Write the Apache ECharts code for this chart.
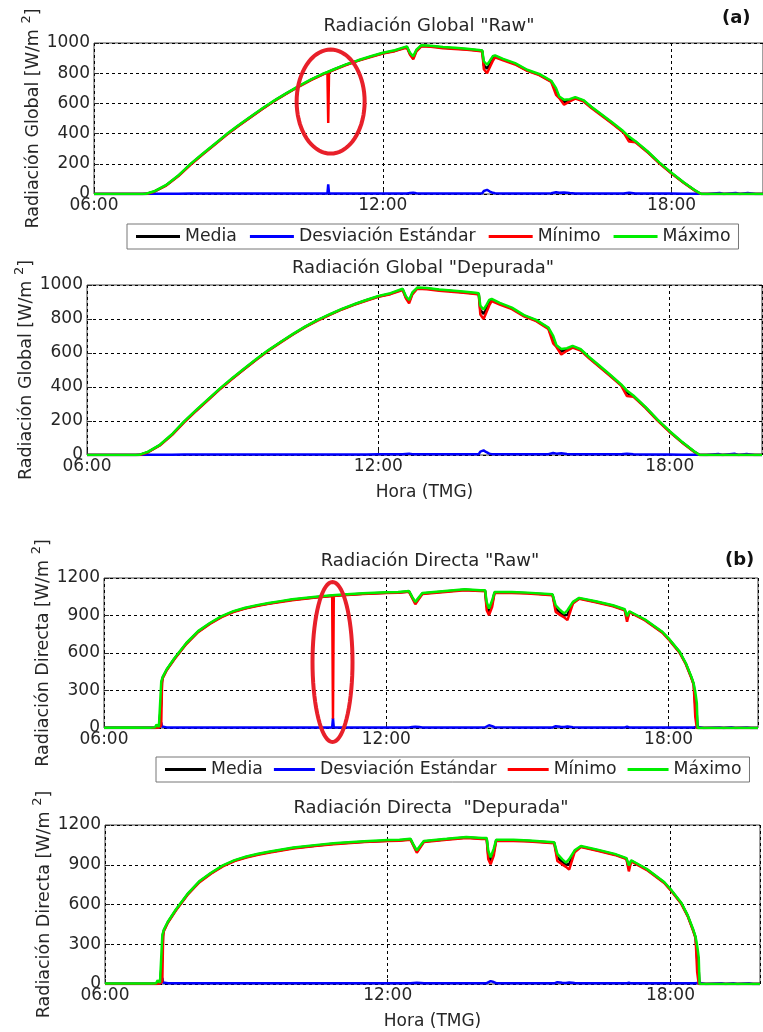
<!DOCTYPE html>
<html><head><meta charset="utf-8">
<script src="https://cdn.jsdelivr.net/npm/echarts/dist/echarts.min.js"></script>
<style>html,body{margin:0;padding:0;background:#fff}#c{width:763px;height:1032px}</style>
</head><body><div id="c"></div>
<script>
// ---------- DATA ----------
const seriesNames = ['Media', 'Desviación Estándar', 'Mínimo', 'Máximo'];
const xTickHours = [6, 12, 18];
const panelTitles = ['Radiación Global "Raw"', 'Radiación Global "Depurada"', 'Radiación Directa "Raw"', 'Radiación Directa  "Depurada"'];

// Global irradiance (W/m2) - cleaned ("Depurada") data
const globalTimes = ['06:00','06:30','07:00','07:05','07:15','07:30','07:45','08:00','08:15','08:30','08:45','09:00','09:15','09:30','09:45','10:00','10:15','10:30','10:45','10:51','10:52','10:53','11:00','11:15','11:30','11:45','12:00','12:15','12:30','12:34','12:38','12:42','12:48','13:00','13:15','13:30','13:45','14:00','14:04','14:06','14:10','14:13','14:17','14:20','14:30','14:45','15:00','15:15','15:30','15:36','15:40','15:46','15:53','16:00','16:10','16:20','16:30','16:45','17:00','17:07','17:15','17:30','17:45','18:00','18:15','18:30','18:37','18:45','19:00','19:05','19:20','19:25','19:35','19:45','19:54'];
const globalMax  = [0,0,0,2,18,60,122,198,265,330,395,455,512,568,620,668,714,757,795,808,810,812,828,860,887,912,935,952,978,934,912,956,985,982,973,968,962,954,951,878,856,878,912,918,895,867,823,795,750,701,646,624,628,642,622,578,538,478,415,380,350,283,208,140,78,22,0,0,0,0,0,0,0,0,0];
const globalMin  = [0,0,0,0,15,56,117,192,260,325,390,450,507,563,616,664,710,753,791,804,806,808,824,856,883,907,930,946,970,922,892,945,978,975,966,960,955,947,944,827,800,834,880,905,885,858,815,787,742,657,635,591,613,632,614,570,530,470,408,347,343,277,202,135,74,19,0,0,0,0,0,0,0,0,0];
const globalMean = [0,0,0,1,16,58,120,195,262,327,392,452,509,565,618,666,712,755,793,806,808,810,826,858,885,910,932,949,974,928,903,950,981,979,970,964,958,950,948,852,830,856,898,911,890,862,819,791,746,680,640,608,620,637,618,574,534,474,411,365,347,280,205,137,76,20,0,0,0,0,0,0,0,0,0];
const globalStd  = [0,0,0,0,1,2,2,3,3,3,3,3,3,3,3,3,3,3,3,3,3,3,3,3,3,3,4,4,4,6,8,5,4,4,4,4,4,4,5,20,27,18,8,5,4,4,4,4,5,12,8,10,6,4,4,4,4,4,4,8,4,3,3,3,2,2,1,0,6,0,7,0,6,0,0];
// "Raw" global anomaly (removed in the cleaned data)
const globalSpikeTime = '10:52';
const globalSpikeMin = 470;
const globalSpikeStd = 64;

// Direct irradiance (W/m2) - cleaned ("Depurada") data
const directTimes = ['06:00','06:30','07:00','07:05','07:07','07:10','07:12','07:13','07:14','07:15','07:20','07:30','07:45','08:00','08:15','08:30','08:45','09:00','09:15','09:30','09:45','10:00','10:30','10:51','10:52','10:53','11:00','11:30','12:00','12:15','12:29','12:33','12:37','12:42','12:46','13:15','13:40','14:00','14:06','14:08','14:11','14:15','14:18','14:40','15:00','15:32','15:36','15:42','15:47','15:51','15:58','16:06','16:27','16:49','17:04','17:07','17:10','17:30','17:52','18:00','18:14','18:22','18:29','18:32','18:34','18:36','18:37','18:45','19:05','19:10','19:20','19:25','19:40','19:45','19:54'];
const directMax  = [3,4,3,5,27,10,14,372,390,411,470,560,680,775,840,895,935,962,983,1000,1015,1030,1050,1062,1062,1063,1066,1078,1086,1088,1096,1049,1009,1049,1080,1096,1110,1102,1102,1009,956,1022,1088,1088,1083,1070,982,942,916,942,1009,1041,1014,982,950,895,934,868,770,717,611,518,411,355,290,200,0,0,0,0,0,0,0,0,0];
const directMin  = [0,0,0,0,10,4,5,20,360,400,462,552,672,767,832,887,927,955,976,993,1008,1022,1043,1055,1055,1056,1059,1071,1079,1081,1089,1040,990,1035,1072,1088,1102,1095,1094,942,903,969,1080,1080,1076,1062,929,903,884,863,995,1033,1005,974,942,850,926,860,762,709,603,510,400,345,90,0,0,0,0,0,0,0,0,0,0];
const directMean = [2,2,2,3,18,7,10,200,378,405,466,556,676,771,836,891,931,958,979,996,1011,1026,1046,1058,1058,1059,1062,1074,1082,1084,1092,1045,1000,1042,1076,1092,1106,1098,1098,975,930,995,1084,1084,1079,1066,955,922,900,905,1002,1037,1010,978,946,872,930,864,766,713,607,514,405,350,190,100,0,0,0,0,0,0,0,0,0];
const directStd  = [0,0,0,0,3,2,8,45,12,6,5,5,5,5,5,5,5,5,5,5,5,5,5,5,5,5,5,5,5,5,5,8,10,8,5,5,5,5,6,18,22,15,6,5,5,5,14,10,8,12,7,5,5,5,5,10,5,5,5,5,5,5,5,5,12,10,4,0,5,0,6,0,5,0,0];
// "Raw" direct anomaly (removed in the cleaned data)
const directSpikeTime = '10:52';
const directSpikeMin = 75;
const directSpikeStd = 80;

// ---------- BUILD ----------
const FONT = 'DejaVu Sans';
const TXT = '#262626';
const COLORS = ['#000000', '#0000ff', '#ff0000', '#00ee00'];

function toHours(s) { const p = s.split(':'); return +p[0] + (+p[1]) / 60; }
function pairs(times, vals) { return times.map((t, i) => [toHours(t), vals[i]]); }
function withSpike(times, vals, t, v) { const o = vals.slice(); o[times.indexOf(t)] = v; return o; }
function fmtHour(v) {
  const h = Math.round(v);
  if (Math.abs(v - h) > 1e-6 || xTickHours.indexOf(h) < 0) return '';
  return (h < 10 ? '0' : '') + h + ':00';
}

const panels = [
  { times: globalTimes, mean: globalMean, std: withSpike(globalTimes, globalStd, globalSpikeTime, globalSpikeStd),
    min: withSpike(globalTimes, globalMin, globalSpikeTime, globalSpikeMin), max: globalMax,
    yMax: 1000, yInt: 200, yName: 'Radiación Global', xName: '',
    grid: { left: 94, top: 43, width: 674, height: 151 }, titleTop: 17, titleX: 429 },
  { times: globalTimes, mean: globalMean, std: globalStd, min: globalMin, max: globalMax,
    yMax: 1000, yInt: 200, yName: 'Radiación Global', xName: 'Hora (TMG)',
    grid: { left: 87, top: 285, width: 675, height: 170 }, titleTop: 259, titleX: 423 },
  { times: directTimes, mean: directMean, std: withSpike(directTimes, directStd, directSpikeTime, directSpikeStd),
    min: withSpike(directTimes, directMin, directSpikeTime, directSpikeMin), max: directMax,
    yMax: 1200, yInt: 300, yName: 'Radiación Directa', xName: '',
    grid: { left: 104, top: 578, width: 654, height: 150 }, titleTop: 552, titleX: 430 },
  { times: directTimes, mean: directMean, std: directStd, min: directMin, max: directMax,
    yMax: 1200, yInt: 300, yName: 'Radiación Directa', xName: 'Hora (TMG)',
    grid: { left: 105, top: 825, width: 655, height: 159 }, titleTop: 799, titleX: 431 }
];

const grids = [], xAxes = [], yAxes = [], series = [], titles = [];
panels.forEach((p, i) => {
  grids.push(Object.assign({ show: true, borderColor: '#404040', borderWidth: 1, backgroundColor: '#fff' }, p.grid));
  titles.push({ text: panelTitles[i], left: p.titleX, top: p.titleTop, textAlign: 'center', padding: 0,
    textStyle: { fontFamily: FONT, fontSize: 18, fontWeight: 'normal', color: TXT } });
  xAxes.push({ type: 'value', gridIndex: i, min: 6, max: 19.9, interval: 6,
    axisLine: { show: false },
    axisTick: { show: true, inside: true, length: 5, lineStyle: { color: '#262626' } },
    axisLabel: { formatter: fmtHour, showMaxLabel: false, margin: 3, fontFamily: FONT, fontSize: 17, color: TXT },
    splitLine: { show: true, lineStyle: { color: '#000', type: [3, 3], width: 1 } },
    name: p.xName, nameLocation: 'middle', nameGap: 29, nameMoveOverlap: false,
    nameTextStyle: { fontFamily: FONT, fontSize: 17, color: TXT } });
  yAxes.push({ type: 'value', gridIndex: i, min: 0, max: p.yMax, interval: p.yInt,
    axisLine: { show: false },
    axisTick: { show: true, inside: true, length: 5, lineStyle: { color: '#262626' } },
    axisLabel: { margin: 4, fontFamily: FONT, fontSize: 17, color: TXT, formatter: v => String(v) },
    splitLine: { show: true, lineStyle: { color: '#000', type: [3, 3], width: 1 } },
    name: '{a|' + p.yName + ' [W/m }{s|2}{a|]}', nameLocation: 'middle', nameRotate: 90, nameGap: 48,
    nameMoveOverlap: false,
    nameTextStyle: { rich: {
      a: { fontFamily: FONT, fontSize: 17.5, color: TXT, lineHeight: 26 },
      s: { fontFamily: FONT, fontSize: 13, color: TXT, verticalAlign: 'top', lineHeight: 14 } } } });
  const vals = [p.mean, p.std, p.min, p.max];
  vals.forEach((v, k) => {
    series.push({ name: seriesNames[k], type: 'line', xAxisIndex: i, yAxisIndex: i,
      data: pairs(p.times, v), showSymbol: false, symbol: 'none', animation: false,
      color: COLORS[k], lineStyle: { width: 2.5, color: COLORS[k] }, z: 2 + k });
  });
});

const legendBase = { orient: 'horizontal', icon: 'rect', itemHeight: 3,
  padding: [4, 8, 4, 9], backgroundColor: '#fff', borderColor: '#777', borderWidth: 1, borderRadius: 0,
  data: seriesNames, selectedMode: false,
  textStyle: { fontFamily: FONT, fontSize: 17.3, color: TXT } };

const chart = echarts.init(document.getElementById('c'), null, { renderer: 'canvas' });
chart.setOption({
  backgroundColor: '#fff',
  animation: false,
  title: titles,
  grid: grids, xAxis: xAxes, yAxis: yAxes, series: series,
  legend: [Object.assign({ left: 127, top: 224, itemWidth: 44, itemGap: 13, width: 630 }, legendBase),
           Object.assign({ left: 156, top: 757, itemWidth: 41, itemGap: 11, width: 600 }, legendBase)]
});

// ---------- ANNOTATIONS ----------
function ellipsePts(cx, cy, rx, ry) {
  const pts = [];
  for (let k = 0; k < 72; k++) { const a = k / 72 * Math.PI * 2; pts.push([cx + rx * Math.cos(a), cy + ry * Math.sin(a)]); }
  return pts;
}
const c1 = chart.convertToPixel({ gridIndex: 0 }, [toHours(globalSpikeTime) + 0.05, 612]);
const c2 = chart.convertToPixel({ gridIndex: 2 }, [toHours(directSpikeTime) - 0.01, 528]);
chart.setOption({
  graphic: [
    { type: 'polygon', shape: { points: ellipsePts(c1[0], c1[1], 34, 52) }, style: { fill: 'none', stroke: '#e8202a', lineWidth: 4 }, z: 100 },
    { type: 'polygon', shape: { points: ellipsePts(c2[0], c2[1], 20, 80) }, style: { fill: 'none', stroke: '#e8202a', lineWidth: 4 }, z: 100 },
    { type: 'text', left: 722, top: 9, style: { text: '(a)', font: 'bold 18px "DejaVu Sans"', fill: '#111' }, z: 100 },
    { type: 'text', left: 725, top: 551, style: { text: '(b)', font: 'bold 18px "DejaVu Sans"', fill: '#111' }, z: 100 }
  ]
});
</script>
</body></html>
